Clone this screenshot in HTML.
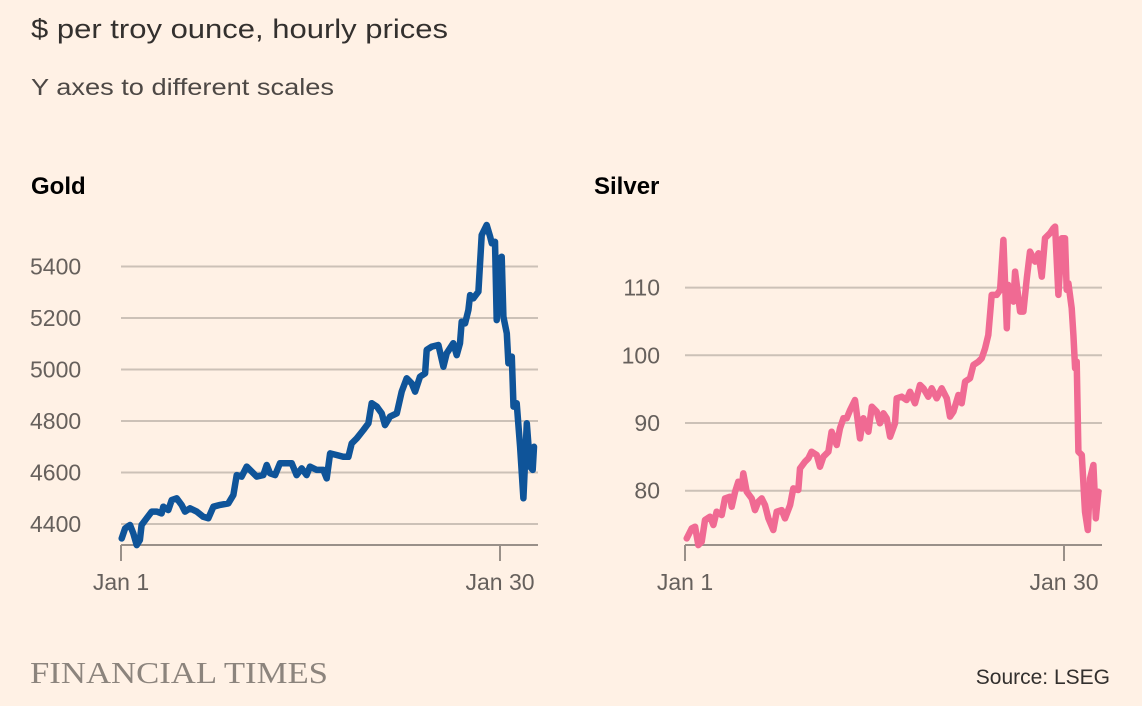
<!DOCTYPE html>
<html><head><meta charset="utf-8"><style>
html,body{margin:0;padding:0;background:#fff1e5;}
svg{display:block;font-family:"Liberation Sans",sans-serif;}
</style></head><body>
<svg id="c" width="1142" height="706" viewBox="0 0 1142 706">
<rect width="1142" height="706" fill="#fff1e5"/>
<text x="31" y="38" font-size="27" fill="#33302e" textLength="417" lengthAdjust="spacingAndGlyphs">$ per troy ounce, hourly prices</text>
<text x="31" y="95" font-size="23" fill="#4d4845" textLength="303" lengthAdjust="spacingAndGlyphs">Y axes to different scales</text>
<text x="31" y="194" font-size="24" font-weight="bold" fill="#000">Gold</text>
<text x="594" y="194" font-size="24" font-weight="bold" fill="#000">Silver</text>
<text x="30" y="683" font-family="Liberation Serif, serif" font-size="31" fill="#8c847d" textLength="298" lengthAdjust="spacingAndGlyphs">FINANCIAL TIMES</text>
<text x="1110" y="684" font-size="21" fill="#33302e" text-anchor="end">Source: LSEG</text>
<g id="gold"></g>
<g id="silver"></g>
</svg>
<script>
const goldDays=[0.05,0.31,0.69,0.94,1.2,1.45,1.58,1.96,2.35,2.73,3.11,3.24,3.62,3.88,4.26,4.64,4.9,5.28,5.79,6.3,6.68,7.07,7.58,8.21,8.6,8.85,9.23,9.62,10.38,10.89,11.15,11.4,11.79,12.17,12.68,13.06,13.44,13.83,14.2,14.46,14.97,15.48,15.74,16.0,16.5,17.0,17.4,17.65,18.04,18.55,18.93,19.18,19.57,19.95,20.2,20.59,21.1,21.48,21.86,22.24,22.5,22.88,23.27,23.39,23.78,24.29,24.67,24.92,25.43,25.69,25.94,26.07,26.33,26.58,26.71,26.96,27.35,27.6,27.98,28.24,28.37,28.62,28.75,28.88,29.13,29.26,29.52,29.64,29.9,30.03,30.28,30.54,30.79,31.05,31.3,31.5,31.6];
const goldValues=[4344,4383,4396,4364,4318,4338,4396,4422,4448,4448,4441,4467,4454,4493,4500,4474,4448,4461,4448,4428,4422,4467,4474,4480,4513,4590,4584,4623,4584,4590,4629,4597,4590,4636,4636,4636,4590,4616,4590,4623,4610,4610,4577,4674,4668,4661,4661,4713,4733,4765,4791,4869,4856,4830,4784,4817,4830,4914,4966,4946,4914,4972,4985,5076,5089,5095,5011,5063,5102,5056,5102,5186,5179,5231,5289,5276,5302,5522,5561,5516,5490,5496,5192,5425,5438,5205,5140,5024,5050,4856,4869,4700,4500,4791,4623,4610,4700];
const goldTicks=[4400,4600,4800,5000,5200,5400];
const silverDays=[0.13,0.51,0.77,1.02,1.28,1.53,1.91,2.17,2.42,2.81,3.06,3.44,3.57,3.83,4.08,4.34,4.46,4.72,5.1,5.36,5.61,5.87,6.12,6.38,6.76,7.02,7.4,7.65,8.04,8.29,8.67,8.8,9.18,9.44,9.69,10.08,10.33,10.59,10.97,11.22,11.61,11.86,12.12,12.37,12.63,13.01,13.39,13.65,14.03,14.29,14.67,14.92,15.18,15.43,15.69,16.07,16.2,16.58,16.96,17.22,17.6,17.98,18.24,18.62,18.88,19.26,19.64,20.03,20.28,20.54,20.92,21.17,21.43,21.81,22.07,22.45,22.7,22.96,23.21,23.47,23.85,24.11,24.36,24.62,24.74,25.13,25.26,25.64,25.89,26.15,26.4,26.79,27.04,27.3,27.55,27.93,28.19,28.32,28.57,28.83,29.08,29.21,29.34,29.59,29.72,29.85,29.97,30.1,30.36,30.61,30.82,31.0,31.25,31.43,31.63];
const silverValues=[72.96,74.43,74.68,71.97,72.46,75.67,76.16,74.93,76.9,76.4,78.87,79.11,77.64,79.85,81.33,80.34,82.56,79.85,78.87,77.14,78.37,78.87,77.88,75.91,74.19,76.9,77.14,75.91,77.88,80.34,80.1,83.3,84.29,84.78,85.76,85.27,83.55,85.02,85.76,88.72,86.75,89.21,90.69,90.69,91.92,93.4,87.73,90.69,88.72,92.41,91.67,89.95,91.43,90.69,87.98,89.95,93.65,93.89,93.4,94.63,92.91,95.62,95.12,93.89,95.12,93.65,95.12,93.65,90.94,91.67,94.14,92.91,96.11,96.6,98.57,99.06,99.56,101.03,103.0,108.92,108.92,109.66,117.04,103.99,110.39,107.93,112.36,106.45,106.45,111.38,115.32,113.84,115.07,111.63,117.29,118.03,118.77,119.01,108.92,117.29,117.29,109.66,110.64,106.95,103.0,98.08,99.06,85.76,85.27,76.9,74.19,81.82,83.79,75.91,79.85];
const silverTicks=[80,90,100,110];
const xTickDays=[0,29];
const xTickLabels=["Jan 1","Jan 30"];
const NS="http://www.w3.org/2000/svg";
function mk(tag,attrs,parent){const e=document.createElementNS(NS,tag);for(const k in attrs)e.setAttribute(k,attrs[k]);parent.appendChild(e);return e;}
function panel(g,cfg,days,vals,ticks){
  const x=d=>cfg.x0+d*(379/29);
  const y=v=>cfg.yRef-(v-cfg.vRef)*cfg.k;
  ticks.forEach(t=>{
    const l=mk('line',{x1:cfg.x0,x2:cfg.x0+417,y1:y(t),y2:y(t),stroke:'#ccc1b7','stroke-width':2},g);
    
    
    const tx=mk('text',{x:cfg.labelX,y:y(t)+8,'font-size':23,fill:'#66605c','text-anchor':cfg.anchor},g);
    tx.textContent=t;
    
    
  });
  const ax=mk('line',{x1:cfg.x0,x2:cfg.x0+417,y1:545,y2:545,stroke:'#999089','stroke-width':2},g);
  
  
  xTickDays.forEach((d,i)=>{
    const tk=mk('line',{x1:x(d),x2:x(d),y1:545,y2:561,stroke:'#999089','stroke-width':2},g);
    
    
    const tx=mk('text',{x:x(d),y:590,'font-size':23,fill:'#66605c','text-anchor':'middle'},g);
    tx.textContent=xTickLabels[i];
    
    
  });
  const p=days.map((d,i)=>(i?'L':'M')+x(d).toFixed(1)+','+y(vals[i]).toFixed(1)).join('');
  const path=mk('path',{d:p,fill:'none',stroke:cfg.color,'stroke-width':6.5,'stroke-linejoin':'round','stroke-linecap':'round'},g);
  
  
}
panel(document.getElementById('gold'),{x0:121,yRef:524,vRef:4400,k:0.2575,labelX:30,anchor:'start',color:'#0f5499',name:'gold-price-line'},goldDays,goldValues,goldTicks);
panel(document.getElementById('silver'),{x0:685,yRef:490.7,vRef:80,k:6.77,labelX:660,anchor:'end',color:'#f06a93',name:'silver-price-line'},silverDays,silverValues,silverTicks);
</script>
</body></html>
